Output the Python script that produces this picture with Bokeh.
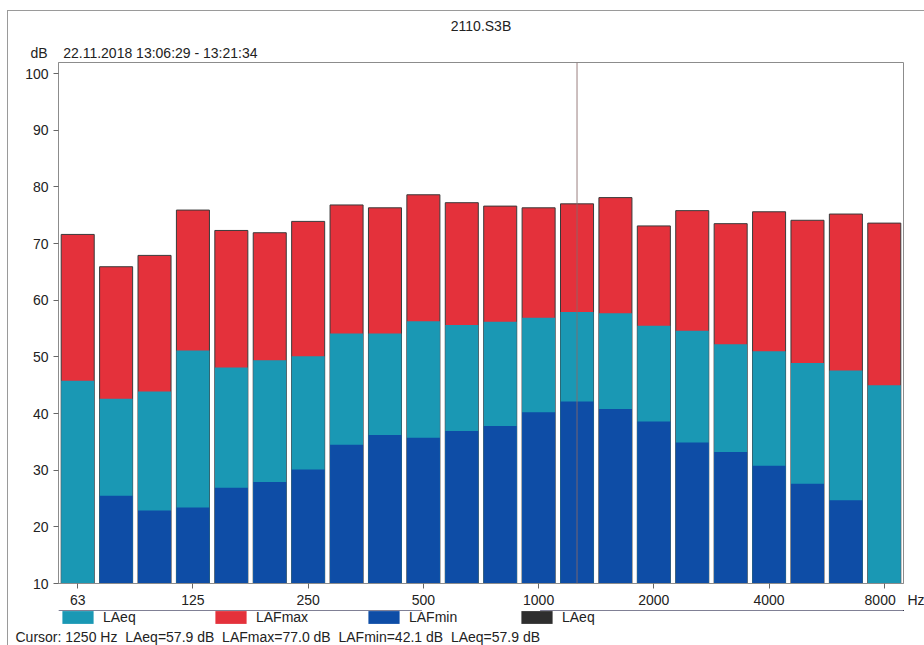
from bokeh.plotting import figure
from bokeh.layouts import column
from bokeh.models import (Range1d, FixedTicker, Span, Legend, LegendItem, Title,
                          ColumnDataSource)
from bokeh.embed import file_html
from bokeh.resources import INLINE

# ---- data -------------------------------------------------------------
freqs = ["63", "80", "100", "125", "160", "200", "250", "315", "400", "500", "630",
         "800", "1000", "1250", "1600", "2000", "2500", "3150", "4000", "5000", "6300", "8000"]
laeq = [45.8, 42.6, 43.9, 51.1, 48.1, 49.4, 50.1, 54.1, 54.1, 56.3, 55.6,
        56.2, 56.9, 57.9, 57.7, 55.5, 54.6, 52.2, 51.0, 48.9, 47.6, 45.0]
lafmax = [71.6, 65.9, 67.9, 75.9, 72.3, 71.9, 73.9, 76.8, 76.3, 78.6, 77.2,
          76.6, 76.3, 77.0, 78.1, 73.1, 75.8, 73.5, 75.6, 74.1, 75.2, 73.6]
lafmin = [9.0, 25.5, 22.9, 23.4, 26.9, 27.9, 30.1, 34.5, 36.2, 35.7, 36.9,
          37.8, 40.2, 42.1, 40.8, 38.6, 34.9, 33.2, 30.8, 27.6, 24.7, 9.0]
tick_labels = ["63", "125", "250", "500", "1000", "2000", "4000", "8000"]
cursor_freq = "1250"
y_ticks = [10, 20, 30, 40, 50, 60, 70, 80, 90, 100]
chart_title = "2110.S3B"
period = "22.11.2018 13:06:29 - 13:21:34"
unit_y = "dB"
unit_x = "Hz"
series_names = ["LAeq", "LAFmax", "LAFmin", "LAeq"]

TEAL = "#1a98b4"
RED = "#e4313b"
BLUE = "#0e4da6"
DARK = "#2e2e2e"
TXT = "#222222"
FONT = "Liberation Sans"
NB = "\u00a0"

# page geometry (body margin is 0 in Bokeh's page template)
MX, MY = 7, 10                 # outer border line position
OX, OY = MX + 1, MY + 1        # content origin
W = 924 - OX
SPLIT = 610                    # page y where the legend strip starts
H1 = SPLIT - OY
H2 = 645 - SPLIT
FL = 58 - OX
FR = W - (903 - OX)
FT = 62 - OY
FB = H1 - (583 - OY)

x_lo, x_hi = -0.5, len(freqs) - 0.5
y_lo = 10.0
YPX = 510 / 90.0
y_hi = y_lo + (583 - 62) / YPX

xs = list(range(len(freqs)))
src = ColumnDataSource(dict(x=xs, laeq=laeq, lafmax=lafmax, lafmin=lafmin))

p = figure(width=W, height=H1, output_backend="svg", toolbar_location=None,
           x_range=Range1d(x_lo, x_hi), y_range=Range1d(y_lo, y_hi),
           min_border_left=FL, min_border_right=FR,
           min_border_top=FT, min_border_bottom=FB)
p.xgrid.visible = False
p.ygrid.visible = False
p.outline_line_color = "#8c8c8c"
p.outline_line_width = 1

BW = 0.86
p.vbar(x="x", top="lafmax", bottom=0, width=BW, source=src,
       fill_color=RED, line_color="#3a3a3a", line_width=1)
p.vbar(x="x", top="laeq", bottom=0, width=BW, source=src,
       fill_color=TEAL, line_color=None)
p.vbar(x="x", top="lafmin", bottom=0, width=BW, source=src,
       fill_color=BLUE, line_color=None)

ci = freqs.index(cursor_freq)
p.add_layout(Span(location=xs[ci], dimension="height", line_color="#8a6a6a",
                  line_width=1, line_alpha=0.85))

# axes
xt = [freqs.index(t) for t in tick_labels]
p.xaxis.ticker = FixedTicker(ticks=xt)
over = {i: freqs[i] for i in xt}
over[xt[-1]] = NB * 7 + freqs[xt[-1]] + NB * 3 + unit_x
p.xaxis.major_label_overrides = over
p.yaxis.ticker = FixedTicker(ticks=y_ticks)
for ax in (p.xaxis[0], p.yaxis[0]):
    ax.axis_line_color = "#8c8c8c"
    ax.major_tick_line_color = "#666666"
    ax.major_tick_out = 5
    ax.major_tick_in = 0
    ax.minor_tick_line_color = None
    ax.major_label_text_font = FONT
    ax.major_label_text_font_size = "14px"
    ax.major_label_text_color = TXT
p.yaxis.major_label_standoff = 5
p.xaxis.major_label_standoff = 3

# main title (outermost) and the period line just above the frame
p.title.text = chart_title
p.title.align = "center"
p.title.vertical_align = "top"
p.title.standoff = 10
p.title.text_font = FONT
p.title.text_font_size = "14px"
p.title.text_font_style = "normal"
p.title.text_color = TXT
p.add_layout(Title(text=unit_y + NB * 4 + period, align="left", offset=30 - 58,
                   standoff=4, text_font=FONT, text_font_size="14px",
                   text_font_style="normal", text_color=TXT), "above")

# ---- legend strip + cursor readout -------------------------------------
LEG_H = 16
p2 = figure(width=W, height=H2, output_backend="svg", toolbar_location=None,
            x_range=Range1d(0, 1), y_range=Range1d(0, 1),
            x_axis_location=None, y_axis_location=None,
            min_border_left=FL, min_border_right=FR,
            min_border_top=0, min_border_bottom=H2 - LEG_H)
p2.xgrid.visible = False
p2.ygrid.visible = False
p2.outline_line_color = None

# zero-height bars: they only provide the legend swatches
s_eq = p2.vbar(x="x", top="laeq", bottom="laeq", width=BW, source=src,
               fill_color=TEAL, line_color=None)
s_max = p2.vbar(x="x", top="lafmax", bottom="lafmax", width=BW, source=src,
                fill_color=RED, line_color=None)
s_min = p2.vbar(x="x", top="lafmin", bottom="lafmin", width=BW, source=src,
                fill_color=BLUE, line_color=None)
s_dark = p2.vbar(x="x", top="laeq", bottom="laeq", width=BW, source=src,
                 fill_color=DARK, line_color=None)

legend = Legend(items=[LegendItem(label=series_names[0], renderers=[s_eq]),
                       LegendItem(label=series_names[1], renderers=[s_max]),
                       LegendItem(label=series_names[2], renderers=[s_min]),
                       LegendItem(label=series_names[3], renderers=[s_dark])],
                orientation="horizontal", location=(0, 0),
                glyph_width=39, glyph_height=LEG_H, label_width=100, label_height=LEG_H,
                spacing=8, padding=0, margin=0, label_standoff=6,
                border_line_color=None, background_fill_alpha=0,
                label_text_font=FONT, label_text_font_size="14px",
                label_text_color=TXT)
p2.add_layout(legend, "center")

cursor_text = (f"Cursor: {freqs[ci]} Hz{NB} {series_names[0]}={laeq[ci]:.1f} dB{NB} "
               f"{series_names[1]}={lafmax[ci]:.1f} dB{NB} "
               f"{series_names[2]}={lafmin[ci]:.1f} dB{NB} "
               f"{series_names[3]}={laeq[ci]:.1f} dB")
p2.add_layout(Title(text=cursor_text, align="left", offset=15 - 58, standoff=2,
                    text_font=FONT, text_font_size="14px", text_font_style="normal",
                    text_color=TXT), "below")

lay = column(p, p2, spacing=0)
lay.margin = (MY, 0, 0, MX)
lay.styles = {"border-top": "1px solid #9a9a9a", "border-left": "1px solid #9a9a9a"}

open("out.html", "w").write(file_html(lay, INLINE))
